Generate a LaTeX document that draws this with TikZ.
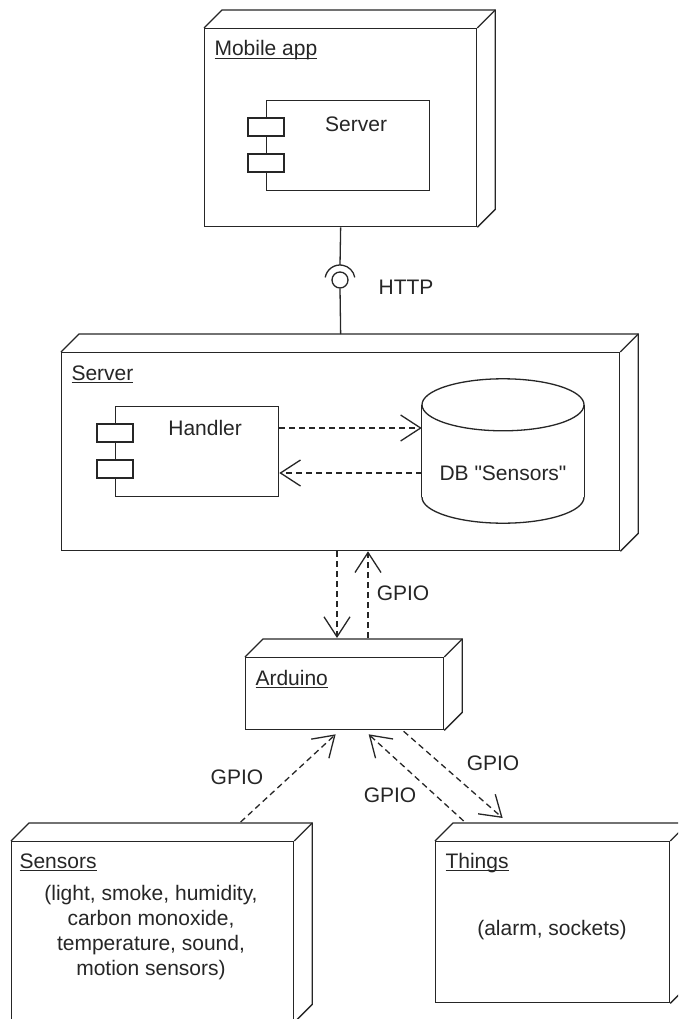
\documentclass[tikz,border=0pt]{standalone}
\usepackage{fontspec}
\newfontfamily\drawfont{Liberation Sans}
\usetikzlibrary{arrows.meta,calc,positioning}

% underlined node title
\newcommand{\nodetitle}[1]{\setbox0\hbox{#1}\rlap{\rule[-3pt]{\wd0}{1.2pt}}\box0}

% top and side faces of a deployment node
\newcommand{\boxdepth}[1]{%
  \draw[edge] (#1.north west) -- ++(18,-18) -- ($(#1.north east)+(18,-18)$)
    -- ($(#1.south east)+(18,-18)$) -- (#1.south east);
  \draw[edge] (#1.north east) -- ++(18,-18);
}

\tikzset{
  edge/.style={line width=1.3pt, draw=black!85},
  devicebox/.style={draw=black!85, line width=1.3pt, fill=white, anchor=north west, inner sep=0pt},
  comp/.style={draw=black!85, line width=1.3pt, fill=white, anchor=north west, inner sep=0pt,
    minimum width=163pt, minimum height=90pt},
  port/.style={draw=black!85, line width=1.3pt, fill=white, inner sep=0pt,
    minimum width=36pt, minimum height=18pt},
  dep/.style={line width=1.3pt, draw=black!85, dash pattern=on 6pt off 4pt,
    -{Straight Barb[length=20pt,width=26pt]}},
}

\begin{document}
\begin{tikzpicture}[x=1pt, y=-1pt,
    every node/.style={font=\drawfont\fontsize{21}{25}\selectfont, text=black!85}]
  \useasboundingbox (0,0) rectangle (678,1019);
  \clip (0,0) rectangle (678,1019);

  % mobile app
  \node[devicebox, minimum width=272pt, minimum height=198pt] (mobile) at (204,28) {};
  \boxdepth{mobile}
  \node[anchor=base west] (mobiletitle) at ($(mobile.north west)+(7,28)$) {\nodetitle{Mobile app}};
  \node[comp] (appsrv) at (266,100) {};
  \node[port] (appsrvp1) at ($(appsrv.north west)+(0,27)$) {};
  \node[port] (appsrvp2) at ($(appsrv.north west)+(0,63)$) {};
  \node (appsrvtxt) at ($(appsrv.north)+(8,24)$) {Server};

  % HTTP socket
  \node[draw=black!85, circle, line width=1.3pt, minimum size=16pt, inner sep=0pt] (http) at (340,280) {};
  \draw[edge] ($(http.center)+(190:15)$) arc[start angle=190, end angle=350, radius=15];
  \draw[edge] (mobile.south) -- ($(http.center)+(0,-15)$);
  \node (httptxt) at (406,287) {HTTP};

  % server
  \node[devicebox, minimum width=558pt, minimum height=198pt] (server) at (61,352) {};
  \boxdepth{server}
  \draw[edge] (http.south) -- ($(server.north)+(0,-18)$);
  \node[anchor=base west] (servertitle) at ($(server.north west)+(7,28)$) {\nodetitle{Server}};
  \node[comp] (handler) at (115,406) {};
  \node[port] (handlerp1) at ($(handler.north west)+(0,27)$) {};
  \node[port] (handlerp2) at ($(handler.north west)+(0,63)$) {};
  \node (handlertxt) at ($(handler.north)+(8,22)$) {Handler};

  % database
  \node[minimum width=162pt, minimum height=144pt, inner sep=0pt] (db) at (503,451) {};
  \draw[edge, fill=white] ($(db.south)+(0,-26)$) ellipse [x radius=81, y radius=26];
  \fill[white] ($(db.south west)+(0,-26)$) rectangle ($(db.north east)+(0,26)$);
  \draw[edge] ($(db.south west)+(0,-26)$) -- ($(db.north west)+(0,26)$);
  \draw[edge] ($(db.south east)+(0,-26)$) -- ($(db.north east)+(0,26)$);
  \draw[edge, fill=white] ($(db.north)+(0,26)$) ellipse [x radius=81, y radius=26];
  \node (dbtxt) at (503,473) {DB "Sensors"};

  \draw[dep] (handler.east |- handlertxt) -- (db.west |- handlertxt);
  \draw[dep] (db.west |- dbtxt) -- (handler.east |- dbtxt);

  % arduino
  \node[devicebox, minimum width=198pt, minimum height=72pt] (arduino) at (245,657) {};
  \boxdepth{arduino}
  \node[anchor=base west] (arduinotitle) at ($(arduino.north west)+(7,28)$) {\nodetitle{Arduino}};
  \coordinate (ardin) at (337,638);
  \coordinate (ardout) at (368,638);
  \draw[dep] (server.south -| ardin) -- (ardin);
  \draw[dep] (ardout) -- (server.south -| ardout);
  \node (gpiosrv) at (403,593) {GPIO};

  % sensors
  \node[devicebox, minimum width=282pt, minimum height=180pt] (sensors) at (11,841) {};
  \boxdepth{sensors}
  \node[anchor=base west] (sensorstitle) at ($(sensors.north west)+(5,27)$) {\nodetitle{Sensors}};
  \node[align=center] (sensorslist) at (151,933)
    {(light, smoke, humidity,\\carbon monoxide,\\temperature, sound,\\motion sensors)};

  % things
  \node[devicebox, minimum width=234pt, minimum height=161pt] (things) at (435,841) {};
  \boxdepth{things}
  \node[anchor=base west] (thingstitle) at ($(things.north west)+(7,27)$) {\nodetitle{Things}};
  \node (thingslist) at (552,930) {(alarm, sockets)};

  % GPIO links
  \draw[dep] ($(sensors.north)+(88,-19)$) -- ($(arduino.south)+(-9,4)$);
  \draw[dep] ($(things.north)+(-89,-20)$) -- ($(arduino.south)+(24,4)$);
  \draw[dep] ($(arduino.south)+(59,1)$) -- ($(things.north)+(-50,-23)$);
  \node (gpiosens) at (237,777) {GPIO};
  \node (gpioin) at (390,795) {GPIO};
  \node (gpioout) at (493,763) {GPIO};
\end{tikzpicture}
\end{document}
